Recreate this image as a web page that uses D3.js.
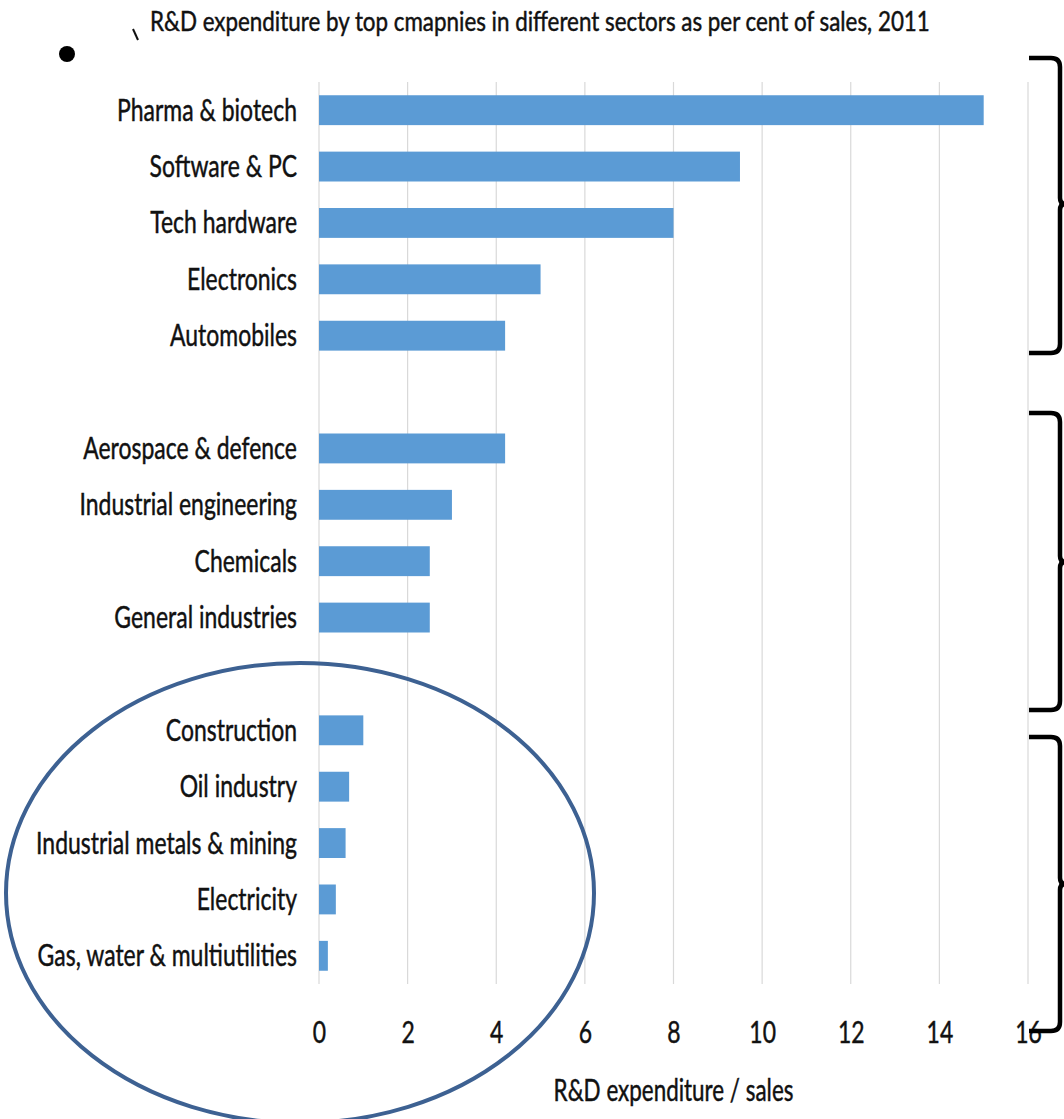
<!DOCTYPE html>
<html>
<head>
<meta charset="utf-8">
<script src="https://cdn.jsdelivr.net/npm/d3@7"></script>
<style>
  html, body { margin: 0; padding: 0; background: #fff; }
  svg { display: block; }
  text { font-family: Lato, "Open Sans", sans-serif; fill: #111; stroke: #111; stroke-width: 0.45px; }
</style>
</head>
<body>
<svg id="chart" width="1064" height="1119"></svg>
<script>
// Sectors, top to bottom; blank entries are spacer rows between groups
const categories = [
  "Pharma & biotech", "Software & PC", "Tech hardware", "Electronics", "Automobiles",
  "",
  "Aerospace & defence", "Industrial engineering", "Chemicals", "General industries",
  " ",
  "Construction", "Oil industry", "Industrial metals & mining", "Electricity", "Gas, water & multiutilities"
];
// R&D expenditure as per cent of sales (null for spacer rows)
const values = [
  15.0, 9.5, 8.0, 5.0, 4.2,
  null,
  4.2, 3.0, 2.5, 2.5,
  null,
  1.0, 0.68, 0.6, 0.38, 0.2
];
const xTicks = [0, 2, 4, 6, 8, 10, 12, 14, 16];
const titleText = "R&D expenditure by top cmapnies in different sectors as per cent of sales, 2011";
const xAxisTitle = "R&D expenditure / sales";

const svg = d3.select("#chart");
const plot = { left: 319, right: 1028, top: 82, bottom: 984 };

const x = d3.scaleLinear().domain([0, 16]).range([plot.left, plot.right]);
const y = d3.scaleBand()
  .domain(categories)
  .range([plot.top, plot.bottom])
  .paddingInner(0.47)
  .paddingOuter(0.235);

// condensed text: horizontal squeeze so a reference string spans a set width
function condensed(sel, refWidth) {
  const w = sel.node().getComputedTextLength();
  return refWidth / w;
}

// vertical gridlines
svg.append("g")
  .selectAll("line")
  .data(xTicks)
  .join("line")
  .attr("x1", d => x(d)).attr("x2", d => x(d))
  .attr("y1", plot.top).attr("y2", plot.bottom)
  .attr("stroke", "#d9d9d9")
  .attr("stroke-width", 1.2);

// bars
const rows = categories.map((c, i) => ({ c, v: values[i] })).filter(d => d.v != null);
svg.append("g")
  .selectAll("rect")
  .data(rows)
  .join("rect")
  .attr("x", x(0))
  .attr("y", d => y(d.c))
  .attr("width", d => x(d.v) - x(0))
  .attr("height", y.bandwidth())
  .attr("fill", "#5b9bd5");

// category labels
const labels = svg.append("g")
  .selectAll("text")
  .data(rows)
  .join("text")
  .attr("text-anchor", "end")
  .attr("font-size", 30)
  .attr("dy", "0.35em")
  .text(d => d.c);
const kLab = condensed(labels.filter((d, i) => i === 0), 180);
labels.attr("transform", d => `translate(${plot.left - 22},${y(d.c) + y.bandwidth() / 2}) scale(${kLab},1)`);

// x axis tick labels
const xAxis = d3.axisBottom(x).tickValues(xTicks).tickSize(0).tickPadding(0);
const gx = svg.append("g")
  .attr("transform", `translate(0, ${plot.bottom + 48})`)
  .call(xAxis);
gx.select(".domain").remove();
gx.selectAll(".tick text")
  .attr("font-size", 30)
  .attr("font-family", null)
  .attr("fill", "#111")
  .attr("y", 0)
  .attr("x", 0)
  .attr("dy", "0.35em")
  .attr("transform", `scale(${kLab},1)`);

// axis title
const axTitle = svg.append("text")
  .attr("text-anchor", "middle")
  .attr("font-size", 30)
  .attr("dy", "0.35em")
  .text(xAxisTitle);
const kAx = condensed(axTitle, 240);
axTitle.attr("transform", `translate(${(plot.left + plot.right) / 2},1090) scale(${kAx},1)`);

// chart title
const title = svg.append("text")
  .attr("font-size", 26)
  .text(titleText);
const kTitle = condensed(title, 780);
title.attr("transform", `translate(150,31) scale(${kTitle},1)`);

// stray mark before the title and a bullet point
svg.append("line")
  .attr("x1", 133).attr("y1", 29).attr("x2", 138).attr("y2", 40)
  .attr("stroke", "#111").attr("stroke-width", 2);
svg.append("circle")
  .attr("cx", 67).attr("cy", 54).attr("r", 8)
  .attr("fill", "#000");

// right-hand braces grouping the sectors
const braces = [
  { top: 58, mid: 204, bot: 353 },
  { top: 413, mid: 562, bot: 710 },
  { top: 737, mid: 884, bot: 1031 }
];
const bx0 = 1029, bx = 1060, tip = 1065, r = 9;
svg.append("g")
  .selectAll("path")
  .data(braces)
  .join("path")
  .attr("d", b => `M${bx0},${b.top} L${bx - r},${b.top} Q${bx},${b.top} ${bx},${b.top + r}`
    + ` L${bx},${b.mid - 6} Q${bx},${b.mid} ${tip},${b.mid} Q${bx},${b.mid} ${bx},${b.mid + 6}`
    + ` L${bx},${b.bot - r} Q${bx},${b.bot} ${bx - r},${b.bot} L${bx0},${b.bot}`)
  .attr("fill", "none")
  .attr("stroke", "#000")
  .attr("stroke-width", 4.5);

// ellipse highlighting the low-intensity sectors
svg.append("ellipse")
  .attr("cx", 300).attr("cy", 893)
  .attr("rx", 294).attr("ry", 230)
  .attr("fill", "none")
  .attr("stroke", "#3d6192")
  .attr("stroke-width", 4);
</script>
</body>
</html>
